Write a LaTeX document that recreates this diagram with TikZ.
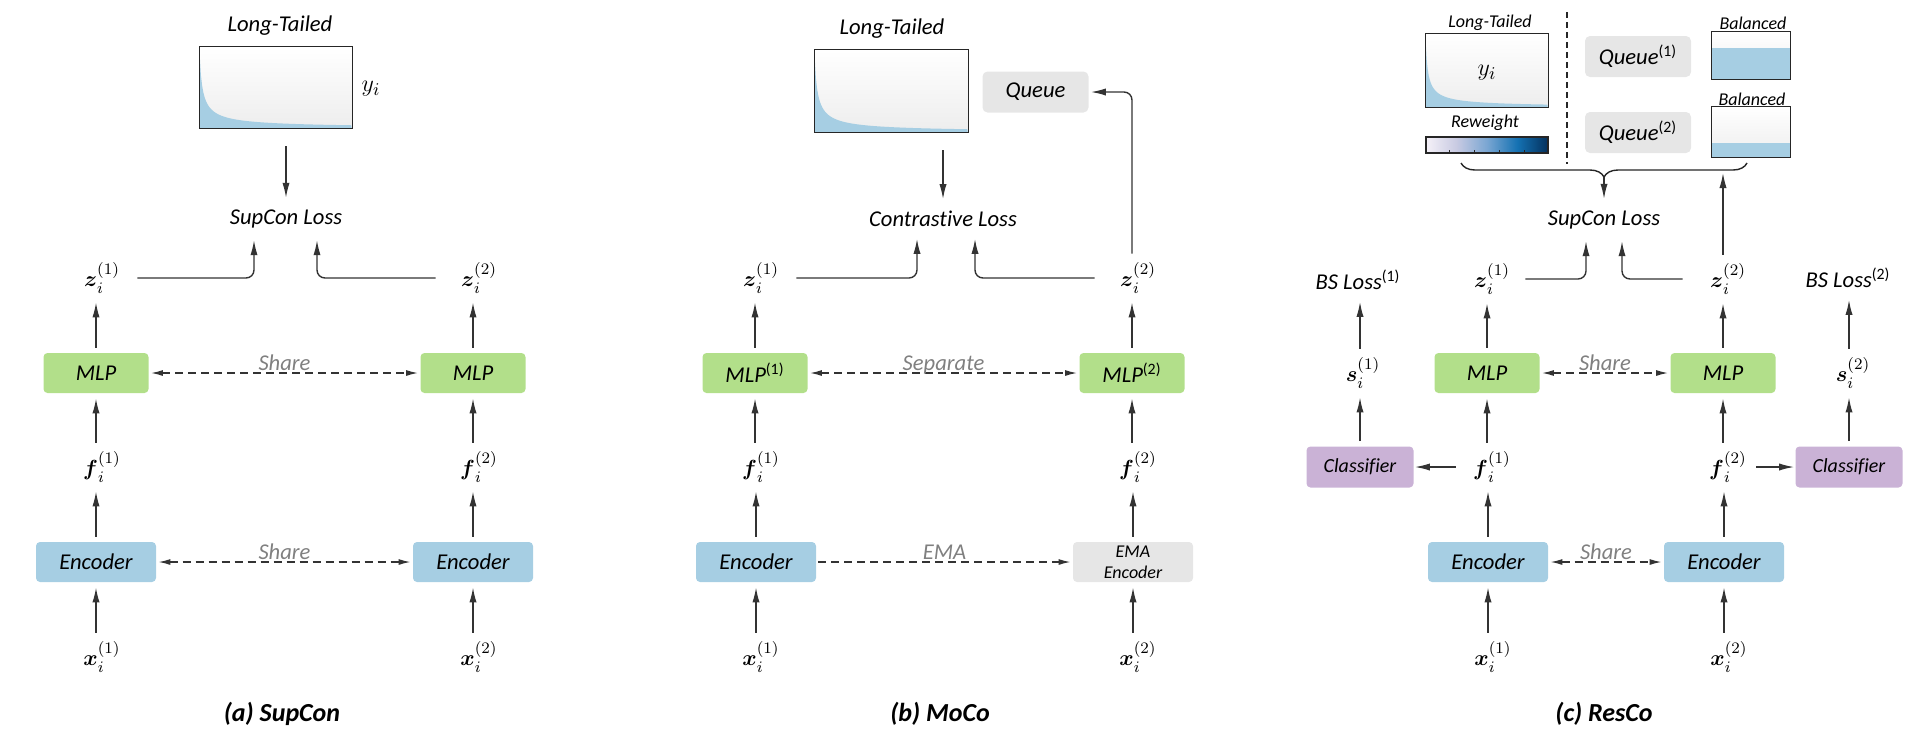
\documentclass[tikz,border=0pt]{standalone}
\usepackage{amsmath}
\usepackage[no-math]{fontspec}
\setmainfont{Carlito}[Ligatures=NoCommon]
\usetikzlibrary{arrows.meta,shadows,decorations.pathreplacing}

\definecolor{mlpgreen}{HTML}{B2DF8A}
\definecolor{encblue}{HTML}{A6CEE3}
\definecolor{clspurple}{HTML}{CAB2D6}
\definecolor{queuegray}{HTML}{E6E6E6}
\definecolor{tailblue}{HTML}{A6CEE3}
\definecolor{arrgray}{HTML}{333333}
\definecolor{sharegray}{HTML}{808080}
\definecolor{boxline}{HTML}{262626}
\definecolor{rwA}{HTML}{F5F1F8}
\definecolor{rwB}{HTML}{C8CAE2}
\definecolor{rwC}{HTML}{7AA6D2}
\definecolor{rwD}{HTML}{1471B2}
\definecolor{rwE}{HTML}{04305C}
\pgfdeclarehorizontalshading{reweight}{100bp}{color(0bp)=(rwA); color(25bp)=(rwA); color(37.5bp)=(rwB); color(50bp)=(rwC); color(62.5bp)=(rwD); color(75bp)=(rwE); color(100bp)=(rwE)}

% long tail under a histogram box: #1 node, #2 width, #3 height (pixels)
\newcommand\tailfill[3]{%
  \begin{scope}[shift={(#1.south west)}]
    \fill[tailblue] (0,0) -- plot[domain=0:1,samples=120] ({#2*\x},{-0.93*#3/(1+68*\x)^0.75}) -- (#2,0) -- cycle;
  \end{scope}
  \draw[boxline, line width=0.8pt] (#1.south west) rectangle (#1.north east);
}

\begin{document}
\begin{tikzpicture}[x=0.5pt, y=-0.5pt,
  every node/.style={font=\fontsize{11.3}{13}\selectfont\itshape},
  mlpbox/.style={fill=mlpgreen, rounded corners=2pt, minimum width=52.5pt, minimum height=20pt, inner sep=0pt},
  encbox/.style={fill=encblue, rounded corners=2pt, minimum width=60pt, minimum height=20pt, inner sep=0pt},
  clsbox/.style={fill=clspurple, rounded corners=2pt, minimum width=53.5pt, minimum height=20.5pt, inner sep=0pt, font=\fontsize{10}{12}\selectfont\itshape},
  queuebox/.style={fill=queuegray, rounded corners=2.5pt, minimum width=53pt, minimum height=20.5pt, inner sep=0pt},
  histbox/.style={top color=white, bottom color=black!7, inner sep=0pt, drop shadow={opacity=0.25, shadow xshift=0.6pt, shadow yshift=-0.6pt}},
  vec/.style={inner sep=2pt, font=\fontsize{11}{13}\selectfont},
  smalltxt/.style={font=\fontsize{9}{11}\selectfont\itshape},
  captxt/.style={font=\fontsize{13}{15}\selectfont\bfseries\itshape},
  arr/.style={draw=arrgray, line width=0.7pt, -{Latex[length=7.5pt,width=3.6pt]}, shorten >=2.5pt, shorten <=2.5pt},
  toloss/.style={arr, rounded corners=4pt},
  dasharr/.style={draw=arrgray, line width=0.7pt, dash pattern=on 4pt off 2.5pt, -{Latex[length=6pt,width=3pt]}, shorten >=1pt, shorten <=1pt},
  sharearr/.style={dasharr, {Latex[length=6pt,width=3pt]}-{Latex[length=6pt,width=3pt]}},
  sharelbl/.style={text=sharegray, anchor=base, yshift=1.5pt},
]
\useasboundingbox (0,0) rectangle (1918,736);

% ---------- (a) SupCon ----------
\node (ltA) at (280,26) {Long-Tailed};
\node[histbox, minimum width=76pt, minimum height=40.5pt] (histA) at (276,87.5) {};
\tailfill{histA}{152}{81}
\node[vec, font=\fontsize{12.5}{14}\selectfont] (yA) at (371,89) {$y_i$};
\node (lossA) at (286,219) {SupCon Loss};
\node[vec] (z1A) at (102,278) {$\boldsymbol{z}_i^{(1)}$};
\node[vec] (z2A) at (479,278) {$\boldsymbol{z}_i^{(2)}$};
\node[mlpbox] (mlp1A) at (96,373) {MLP};
\node[mlpbox] (mlp2A) at (473,373) {MLP};
\node[vec] (f1A) at (102,467) {$\boldsymbol{f}_i^{(1)}$};
\node[vec] (f2A) at (479,467) {$\boldsymbol{f}_i^{(2)}$};
\node[encbox] (enc1A) at (96,562) {Encoder};
\node[encbox] (enc2A) at (473,562) {Encoder};
\node[vec] (x1A) at (102,657) {$\boldsymbol{x}_i^{(1)}$};
\node[vec] (x2A) at (479,657) {$\boldsymbol{x}_i^{(2)}$};
\node[captxt] (capA) at (282,714) {(a) SupCon};

\draw[arr, shorten <=9pt] (lossA.north |- histA.south) -- (lossA.north);
\draw[toloss] ([xshift=4pt]z1A.east) -| ([xshift=-16pt]lossA.south);
\draw[toloss] ([xshift=-8pt]z2A.west) -| ([xshift=15.5pt]lossA.south);
\foreach \c/\z/\f/\e/\s in {mlp1A/z1A/f1A/enc1A/x1A, mlp2A/z2A/f2A/enc2A/x2A}
  {
  \draw[arr] (\c.north) -- (\c |- \z.south);
  \draw[arr] (\c |- \f.north) -- (\c.south);
  \draw[arr] (\e.north) -- (\e |- \f.south);
  \draw[arr] (\e |- \s.north) -- (\e.south);
  }
\draw[sharearr] (mlp1A) -- (mlp2A) node[sharelbl, midway] {Share};
\draw[sharearr] (enc1A) -- (enc2A) node[sharelbl, midway] {Share};

% ---------- (b) MoCo ----------
\node (ltB) at (892,29) {Long-Tailed};
\node[histbox, minimum width=76.5pt, minimum height=41pt] (histB) at (891.5,91) {};
\tailfill{histB}{153}{82}
\node[queuebox] (queueB) at (1035.5,92) {Queue};
\node (lossB) at (943,219) {Contrastive Loss};
\node[vec] (z1B) at (761,278) {$\boldsymbol{z}_i^{(1)}$};
\node[vec] (z2B) at (1138,278) {$\boldsymbol{z}_i^{(2)}$};
\node[mlpbox] (mlp1B) at (755,373) {MLP\textsuperscript{\upshape(1)}};
\node[mlpbox] (mlp2B) at (1132,373) {MLP\textsuperscript{\upshape(2)}};
\node[vec] (f1B) at (761,467) {$\boldsymbol{f}_i^{(1)}$};
\node[vec] (f2B) at (1138,467) {$\boldsymbol{f}_i^{(2)}$};
\node[encbox] (enc1B) at (756,562) {Encoder};
\node[encbox, fill=queuegray, align=center, font=\fontsize{9}{10.5}\selectfont\itshape] (emaB) at (1133,562) {EMA\\Encoder};
\node[vec] (x1B) at (761,657) {$\boldsymbol{x}_i^{(1)}$};
\node[vec] (x2B) at (1138,657) {$\boldsymbol{x}_i^{(2)}$};
\node[captxt] (capB) at (940,714) {(b) MoCo};

\draw[arr, shorten <=9pt] (lossB.north |- histB.south) -- (lossB.north);
\draw[toloss] ([xshift=4pt]z1B.east) -| ([xshift=-13pt]lossB.south);
\draw[toloss] ([xshift=-8pt]z2B.west) -| ([xshift=16pt]lossB.south);
\draw[toloss, shorten >=1pt] (mlp2B |- z2B.north) |- (queueB.east);
\foreach \c/\z/\f/\e/\s in {mlp1B/z1B/f1B/enc1B/x1B, mlp2B/z2B/f2B/emaB/x2B}
  {
  \draw[arr] (\c.north) -- (\c |- \z.south);
  \draw[arr] (\c |- \f.north) -- (\c.south);
  \draw[arr] (\e.north) -- (\e |- \f.south);
  \draw[arr] (\e |- \s.north) -- (\e.south);
  }
\draw[sharearr] (mlp1B) -- (mlp2B) node[sharelbl, midway] {Separate};
\draw[dasharr] (enc1B) -- (emaB) node[sharelbl, midway] {EMA};

% ---------- (c) ResCo ----------
\node[smalltxt] (ltC) at (1490,23) {Long-Tailed};
\node[histbox, minimum width=61pt, minimum height=36.5pt] (histC) at (1487,70.5) {};
\tailfill{histC}{122}{73}
\node[vec, font=\fontsize{12.5}{14}\selectfont] (yC) at (1487,73) {$y_i$};
\node[smalltxt] (rwC) at (1485,123) {Reweight};
\node[draw=boxline, line width=0.6pt, shading=reweight, minimum width=61pt, minimum height=8pt, inner sep=0pt] (barC) at (1487,145) {};
\foreach \t in {1449,1474,1499,1524}
  \draw[boxline, line width=0.4pt] (\t,153) -- (\t,150);
\draw[boxline, line width=0.7pt, dash pattern=on 3pt off 2pt] (1567,12) -- (1567,164);
\node[queuebox] (queue1C) at (1638,56.5) {Queue\textsuperscript{\upshape(1)}};
\node[queuebox] (queue2C) at (1638,132.5) {Queue\textsuperscript{\upshape(2)}};
\node[smalltxt] (bal1C) at (1753,23) {Balanced};
\node[histbox, minimum width=39pt, minimum height=23.5pt] (bhist1C) at (1751,55.5) {};
\fill[tailblue] (bhist1C.south west) rectangle ([yshift=15.5pt]bhist1C.south east);
\draw[boxline, line width=0.8pt] (bhist1C.south west) rectangle (bhist1C.north east);
\node[smalltxt] (bal2C) at (1752,99) {Balanced};
\node[histbox, minimum width=39pt, minimum height=25pt] (bhist2C) at (1751,132) {};
\fill[tailblue] (bhist2C.south west) rectangle ([yshift=7pt]bhist2C.south east);
\draw[boxline, line width=0.8pt] (bhist2C.south west) rectangle (bhist2C.north east);
\draw[boxline, line width=0.7pt, decorate, decoration={brace, mirror, amplitude=7pt}] (1461,163) -- (1747,163);
\coordinate (braceTip) at (1604,177);
\coordinate (braceBar) at (1723,173);

\node (lossC) at (1604,220) {SupCon Loss};
\node (bs1C) at (1358,280) {BS Loss\textsuperscript{\upshape(1)}};
\node (bs2C) at (1848,278) {BS Loss\textsuperscript{\upshape(2)}};
\node[vec] (z1C) at (1492,279) {$\boldsymbol{z}_i^{(1)}$};
\node[vec] (z2C) at (1728,279) {$\boldsymbol{z}_i^{(2)}$};
\node[vec] (s1C) at (1363,373) {$\boldsymbol{s}_i^{(1)}$};
\node[vec] (s2C) at (1853,373) {$\boldsymbol{s}_i^{(2)}$};
\node[mlpbox] (mlp1C) at (1487,373) {MLP};
\node[mlpbox] (mlp2C) at (1723,373) {MLP};
\node[vec] (f1C) at (1492,467) {$\boldsymbol{f}_i^{(1)}$};
\node[vec] (f2C) at (1728,467) {$\boldsymbol{f}_i^{(2)}$};
\node[clsbox] (cls1C) at (1360,467) {Classifier};
\node[clsbox] (cls2C) at (1849,467) {Classifier};
\node[encbox] (enc1C) at (1488,562) {Encoder};
\node[encbox] (enc2C) at (1724,562) {Encoder};
\node[vec] (x1C) at (1493,657) {$\boldsymbol{x}_i^{(1)}$};
\node[vec] (x2C) at (1729,657) {$\boldsymbol{x}_i^{(2)}$};
\node[captxt] (capC) at (1604,714) {(c) ResCo};

\draw[arr, shorten <=0pt] (braceTip) -- (lossC.north);
\draw[arr, shorten >=0pt] (mlp2C |- z2C.north) -- (braceBar);
\draw[toloss] ([xshift=3pt]z1C.east) -| ([xshift=-9pt]lossC.south);
\draw[toloss] ([xshift=-9pt]z2C.west) -| ([xshift=9pt]lossC.south);
\foreach \c/\z/\f/\e/\s in {mlp1C/z1C/f1C/enc1C/x1C, mlp2C/z2C/f2C/enc2C/x2C}
  {
  \draw[arr] (\c.north) -- (\c |- \z.south);
  \draw[arr] (\c |- \f.north) -- (\c.south);
  \draw[arr] (\e.north) -- (\e |- \f.south);
  \draw[arr] (\e |- \s.north) -- (\e.south);
  }
\foreach \k/\s/\b in {cls1C/s1C/bs1C, cls2C/s2C/bs2C}
  {
  \draw[arr] (\k.north) -- (\k |- \s.south);
  \draw[arr] (\k |- \s.north) -- (\k |- \b.south);
  }
\draw[arr, shorten >=0.5pt] ([xshift=-4pt]f1C.west) -- (cls1C.east);
\draw[arr, shorten >=0.5pt] (f2C.east) -- (cls2C.west);
\draw[sharearr] (mlp1C) -- (mlp2C) node[sharelbl, midway] {Share};
\draw[sharearr] (enc1C) -- (enc2C) node[sharelbl, midway] {Share};
\end{tikzpicture}
\end{document}
